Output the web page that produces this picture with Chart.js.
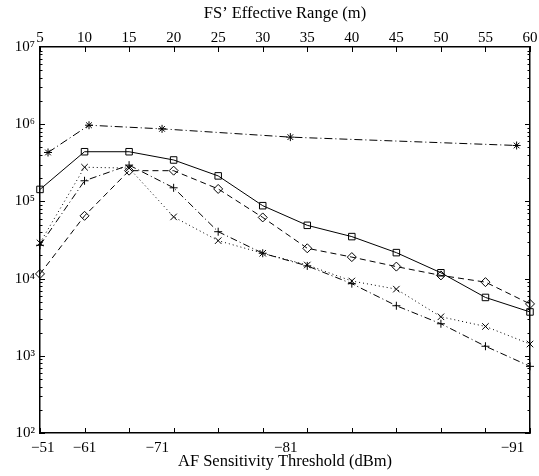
<!DOCTYPE html>
<html><head><meta charset="utf-8">
<script src="https://cdn.jsdelivr.net/npm/chart.js@4/dist/chart.umd.min.js"></script>
<style>html,body{margin:0;padding:0;background:#fff;}canvas{display:block;}</style>
</head><body>
<canvas id="c" width="539" height="476"></canvas>
<script>
// ---- data ----
const rangeX = [5, 10, 15, 20, 25, 30, 35, 40, 45, 50, 55, 60];
const starX = [5.9, 10.5, 18.7, 33.1, 58.5];
const starY = [4.3e5, 9.7e5, 8.7e5, 6.8e5, 5.3e5];
const squareY = [1.43e5, 4.4e5, 4.4e5, 3.44e5, 2.14e5, 8.8e4, 4.9e4, 3.5e4, 2.17e4, 1.19e4, 5.7e3, 3.7e3];
const diamondY = [1.15e4, 6.5e4, 2.5e5, 2.5e5, 1.45e5, 6.2e4, 2.47e4, 1.9e4, 1.43e4, 1.1e4, 9.0e3, 4.7e3];
const crossY = [2.9e4, 2.77e5, 2.7e5, 6.3e4, 3.1e4, 2.13e4, 1.5e4, 9.3e3, 7.3e3, 3.2e3, 2.4e3, 1.42e3];
const plusY = [2.7e4, 1.85e5, 2.95e5, 1.5e5, 4.05e4, 2.13e4, 1.46e4, 8.6e3, 4.45e3, 2.6e3, 1.33e3, 7.3e2];
const thresholdPos = [5.31, 9.99, 18.15, 32.59, 58.03];
const thresholdLabels = ['\u221251', '\u221261', '\u221271', '\u221281', '\u221291'];
const decadeTicks = [1e2, 1e3, 1e4, 1e5, 1e6, 1e7];
const decadeLabels = ['10\u00B2', '10\u00B3', '10\u2074', '10\u2075', '10\u2076', '10\u2077'];

const FAMILY = "'Liberation Serif', 'Times New Roman', serif";
Chart.defaults.font.family = FAMILY;
Chart.defaults.color = '#000';

const pts = (xs, ys) => xs.map((x, i) => ({x: x, y: ys[i]}));
function ds(label, xs, ys, dash, style, r) {
  return {
    label: label, data: pts(xs, ys), borderColor: '#000', borderWidth: 1, borderDash: dash,
    pointStyle: style, pointRadius: r, pointBorderColor: '#000', pointBorderWidth: 1,
    pointBackgroundColor: 'rgba(0,0,0,0)', fill: false, tension: 0, clip: false
  };
}

const tickMarks = {
  id: 'tickMarks',
  afterDraw(chart) {
    const {ctx, chartArea: a, scales} = chart;
    ctx.save();
    ctx.strokeStyle = '#000';
    ctx.lineWidth = 1;
    ctx.beginPath();
    scales.xTop.ticks.forEach(t => {
      const px = Math.round(scales.xTop.getPixelForValue(t.value)) + 0.5;
      ctx.moveTo(px, a.top); ctx.lineTo(px, a.top + 5);
      ctx.moveTo(px, a.bottom); ctx.lineTo(px, a.bottom - 5);
    });
    const y = scales.y;
    for (let e = 2; e < 7; e++) {
      for (let m = 1; m < 10; m++) {
        const py = Math.round(y.getPixelForValue(m * Math.pow(10, e))) + 0.5;
        const len = m === 1 ? 5 : 2.5;
        ctx.moveTo(a.left, py); ctx.lineTo(a.left + len, py);
        ctx.moveTo(a.right, py); ctx.lineTo(a.right - len, py);
      }
    }
    ctx.stroke();
    ctx.restore();
  }
};

const tickFont = {family: FAMILY, size: 15};
const titleFont = {family: FAMILY, size: 16.5};
const border = {display: true, color: '#000', width: 1.5};
const noGrid = {display: false, drawTicks: false};

new Chart(document.getElementById('c'), {
  type: 'line',
  data: {
    datasets: [
      ds('star', starX, starY, [8, 3, 1, 3], 'star', 4),
      ds('square', rangeX, squareY, [], 'rect', 4.6),
      ds('diamond', rangeX, diamondY, [6, 4], 'rectRot', 4.5),
      ds('cross', rangeX, crossY, [1, 3], 'crossRot', 4.6),
      ds('plus', rangeX, plusY, [7, 3, 1, 3], 'cross', 4)
    ]
  },
  options: {
    responsive: false, animation: false, devicePixelRatio: 1,
    layout: {padding: 0},
    plugins: {legend: {display: false}, tooltip: {enabled: false}},
    scales: {
      x: {
        type: 'linear', position: 'bottom', min: 5, max: 60,
        afterBuildTicks: s => { s.ticks = thresholdPos.map(v => ({value: v})); },
        afterFit: s => { s.height = 43; },
        ticks: {autoSkip: false, maxRotation: 0, minRotation: 0, padding: 6, font: tickFont, color: '#000',
                callback: (v, i) => thresholdLabels[i]},
        grid: noGrid, border: border,
        title: {display: true, text: 'AF Sensitivity Threshold (dBm)', color: '#000', font: titleFont, padding: {top: 0, bottom: 4}}
      },
      xTop: {
        type: 'linear', position: 'top', min: 5, max: 60,
        afterBuildTicks: s => { s.ticks = rangeX.map(v => ({value: v})); },
        afterFit: s => { s.height = 47; },
        ticks: {autoSkip: false, maxRotation: 0, minRotation: 0, padding: 0, font: tickFont, color: '#000',
                callback: (v, i) => String(rangeX[i])},
        grid: noGrid, border: border,
        title: {display: true, text: 'FS\u2019 Effective Range (m)', color: '#000', font: titleFont, padding: {top: 3.8, bottom: 0}}
      },
      y: {
        type: 'logarithmic', position: 'left', min: 100, max: 1e7,
        afterBuildTicks: s => { s.ticks = decadeTicks.map(v => ({value: v})); },
        afterFit: s => { s.width = 40; },
        ticks: {autoSkip: false, padding: 5, font: tickFont, color: '#000', callback: (v, i) => decadeLabels[i]},
        grid: noGrid, border: border
      },
      yRight: {
        type: 'logarithmic', position: 'right', min: 100, max: 1e7,
        afterFit: s => { s.width = 9; },
        ticks: {display: false},
        grid: noGrid, border: border
      }
    }
  },
  plugins: [tickMarks]
});
</script>
</body></html>
